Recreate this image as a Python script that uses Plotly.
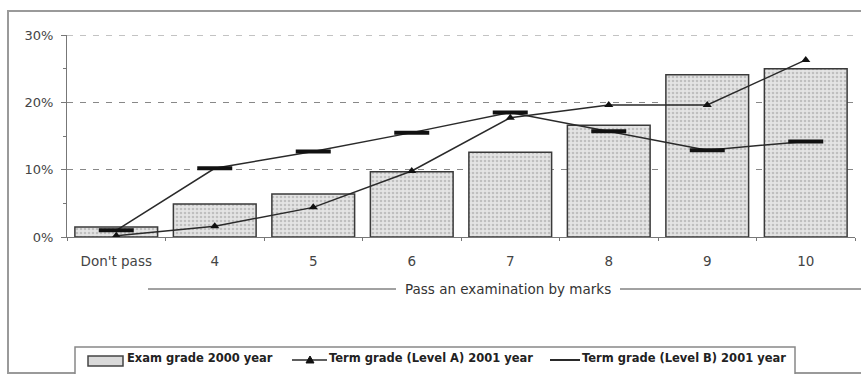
import plotly.graph_objects as go

# Categories along the x axis
categories = ["Don't pass", "4", "5", "6", "7", "8", "9", "10"]

# Share of students per mark (fractions)
exam_2000 = [0.015, 0.049, 0.064, 0.097, 0.126, 0.166, 0.241, 0.250]
term_a_2001 = [0.002, 0.016, 0.044, 0.098, 0.177, 0.196, 0.196, 0.263]
term_b_2001 = [0.010, 0.102, 0.127, 0.155, 0.185, 0.157, 0.129, 0.142]

series_names = ["Exam grade 2000 year",
                "Term grade (Level A) 2001 year",
                "Term grade (Level B) 2001 year"]

y_ticks = [0, 0.1, 0.2, 0.3]
y_tick_labels = ["0%", "10%", "20%", "30%"]

W, H = 861, 374
L, R, T, B = 67, 6, 35, 137
PW, PH = W - L - R, H - T - B


def px_x(p):
    return (p - L) / PW


def px_y(p):
    return (H - B - p) / PH


font = "DejaVu Sans, Verdana, sans-serif"
line_col = "#2a2a2a"

fig = go.Figure()

fig.add_trace(go.Bar(
    x=categories, y=exam_2000, name=series_names[0],
    width=0.84,
    marker=dict(
        color="#dcdcdc",
        line=dict(color="#3a3a3a", width=1.5),
        pattern=dict(shape=".", fgcolor="#9a9a9a", bgcolor="#e4e4e4",
                     size=4, solidity=0.35),
    ),
))

fig.add_trace(go.Scatter(
    x=categories, y=term_a_2001, name=series_names[1],
    mode="lines+markers",
    line=dict(color=line_col, width=1.5),
    marker=dict(symbol="triangle-up", size=8, color="#111"),
))

fig.add_trace(go.Scatter(
    x=categories, y=term_b_2001, name=series_names[2],
    mode="lines+markers",
    line=dict(color=line_col, width=1.5),
    marker=dict(symbol="line-ew", size=25,
                line=dict(color="#111", width=4)),
))

# Outer frame of the chart
fig.add_shape(type="rect", xref="paper", yref="paper",
              x0=px_x(8), x1=px_x(875), y0=px_y(373), y1=px_y(11),
              line=dict(color="#9a9a9a", width=2), layer="below")

# Top dashed gridline at 30%
fig.add_shape(type="line", xref="paper", yref="y",
              x0=0, x1=1, y0=0.3, y1=0.3,
              line=dict(color="#888", width=1, dash="6px,7px"))

# Group label under the category axis
yl = px_y(289)
fig.add_shape(type="line", xref="paper", yref="paper",
              x0=px_x(148), x1=px_x(396), y0=yl, y1=yl,
              line=dict(color="#444", width=1))
fig.add_shape(type="line", xref="paper", yref="paper",
              x0=px_x(620), x1=px_x(870), y0=yl, y1=yl,
              line=dict(color="#444", width=1))
fig.add_annotation(text="Pass an examination by marks",
                   xref="paper", yref="paper", x=px_x(508), y=yl,
                   showarrow=False, xanchor="center", yanchor="middle",
                   font=dict(family=font, size=13.5, color="#333"))

# Legend box with its three entries
fig.add_shape(type="rect", xref="paper", yref="paper",
              x0=px_x(75), x1=px_x(795), y0=px_y(380), y1=px_y(347),
              line=dict(color="#888", width=1.5), fillcolor="white",
              layer="below")
ly = px_y(360)
# bar swatch
fig.add_shape(type="rect", xref="paper", yref="paper",
              x0=px_x(88), x1=px_x(123), y0=px_y(366), y1=px_y(356),
              line=dict(color="#444", width=1.5), fillcolor="#dadada")
# Level A swatch: line with triangle
fig.add_shape(type="line", xref="paper", yref="paper",
              x0=px_x(292), x1=px_x(327), y0=ly, y1=ly,
              line=dict(color=line_col, width=1.5))
fig.add_shape(type="path", xref="paper", yref="paper",
              path="M {:.5f} {:.5f} L {:.5f} {:.5f} L {:.5f} {:.5f} Z".format(
                  px_x(306), px_y(363), px_x(314), px_y(363),
                  px_x(310), px_y(356)),
              line=dict(color="#111", width=1), fillcolor="#111")
# Level B swatch: plain line
fig.add_shape(type="line", xref="paper", yref="paper",
              x0=px_x(550), x1=px_x(580), y0=ly, y1=ly,
              line=dict(color=line_col, width=2))

legend_x = [125, 327, 580]
for name, xp in zip(series_names, legend_x):
    fig.add_annotation(text="<b>" + name + "</b>",
                       xref="paper", yref="paper", x=px_x(xp), y=px_y(358),
                       showarrow=False, xanchor="left", yanchor="middle",
                       font=dict(family=font, size=11.5, color="#222"))

fig.update_layout(
    width=W, height=H,
    margin=dict(l=L, r=R, t=T, b=B, pad=0),
    paper_bgcolor="white", plot_bgcolor="white",
    showlegend=False,
    font=dict(family=font, size=12, color="#444"),
)

fig.update_xaxes(
    type="category", range=[-0.5, len(categories) - 0.5],
    showline=True, linecolor="#777", linewidth=1,
    ticks="outside", tickson="boundaries", ticklen=3, tickcolor="#777",
    showgrid=False,
    tickfont=dict(family=font, size=13.5, color="#444"),
    ticklabelstandoff=12,
)

fig.update_yaxes(
    range=[0, 0.3],
    tickvals=y_ticks, ticktext=y_tick_labels,
    showline=True, linecolor="#777", linewidth=1,
    ticks="outside", ticklen=5, tickcolor="#777",
    minor=dict(dtick=0.05, ticks="outside", ticklen=3, tickcolor="#777"),
    showgrid=True, gridcolor="#888", gridwidth=1, griddash="6px,7px",
    zeroline=False,
    tickfont=dict(family=font, size=13, color="#444"),
    ticklabelstandoff=5,
)

fig.write_html("out.html")
